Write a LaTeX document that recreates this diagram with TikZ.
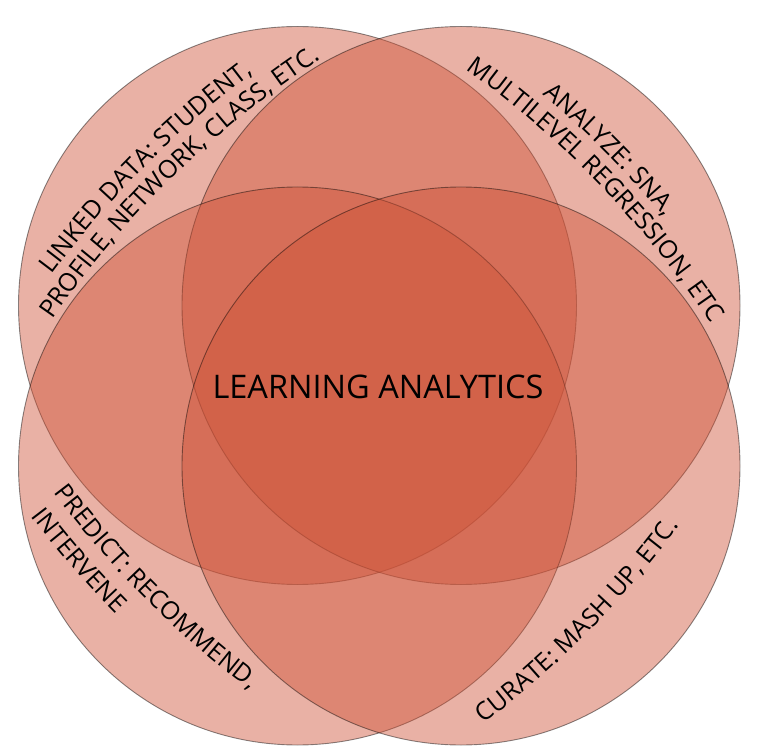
\documentclass[tikz,border=0pt]{standalone}
\usepackage{fontspec}
\setmainfont{Open Sans}
\usetikzlibrary{decorations.text}

\definecolor{vennred}{RGB}{206,82,55}
\newcommand\lblfont{\fontsize{25}{27}\selectfont}

\begin{document}
\begin{tikzpicture}[x=1pt,y=1pt,
    ring/.style={fill=vennred,fill opacity=0.45,draw=black,draw opacity=0.45,line width=0.9pt},
    lbl/.style={decoration={text along path,text={|\lblfont|#1},text align=center},decorate}]
  \useasboundingbox (0,0) rectangle (768,748);
  % the four sets
  \coordinate (tl) at (297.5,442.5);
  \coordinate (tr) at (461,442.5);
  \coordinate (bl) at (297.5,282);
  \coordinate (br) at (461,282);
  \foreach \c in {tl,tr,bl,br} \draw[ring] (\c) circle[radius=279];
  % centres of the label arcs
  \coordinate (otl) at (852,-126);
  \coordinate (otr) at (-101,-112);
  \coordinate (obl) at (852,857);
  \coordinate (obr) at (-127,822);
  % labels bent along the rims
  \path[lbl={LINKED DATA: STUDENT,}] (otl) ++(150:1000) arc[start angle=150,end angle=120,radius=1000];
  \path[lbl={PROFILE, NETWORK, CLASS, ETC.}] (otl) ++(149.2:973) arc[start angle=149.2,end angle=119.2,radius=973];
  \path[lbl={ANALYZE: SNA,}] (otr) ++(60:1000) arc[start angle=60,end angle=30,radius=1000];
  \path[lbl={MULTILEVEL REGRESSION, ETC}] (otr) ++(58.9:973) arc[start angle=58.9,end angle=28.9,radius=973];
  \path[lbl={PREDICT: RECOMMEND,}] (obl) ++(210:1000) arc[start angle=210,end angle=240,radius=1000];
  \path[lbl={INTERVENE}] (obl) ++(205.9:1032) arc[start angle=205.9,end angle=235.9,radius=1032];
  \path[lbl={CURATE: MASH UP, ETC.}] (obr) ++(300.4:1005) arc[start angle=300.4,end angle=330.4,radius=1005];
  \node (la) at (378,361.5) {\fontsize{32.5}{33}\selectfont LEARNING ANALYTICS};
\end{tikzpicture}
\end{document}
